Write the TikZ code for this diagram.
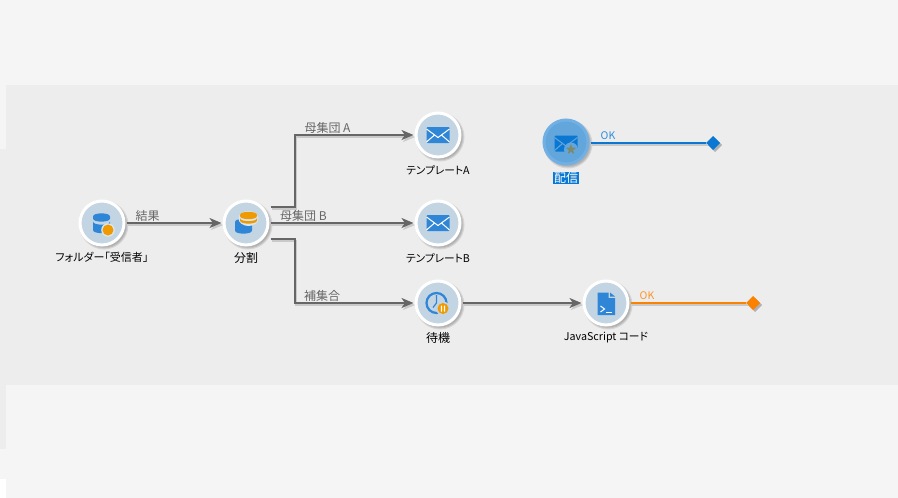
\documentclass[tikz,border=0pt]{standalone}
\usepackage{fontspec}
\setmainfont{Noto Sans CJK JP}[RawFeature=+palt]
\usetikzlibrary{arrows.meta,shapes.geometric}
\definecolor{bgl}{HTML}{F5F5F5}
\definecolor{bgd}{HTML}{EDEDED}
\definecolor{nodefill}{HTML}{C3D5E3}
\definecolor{icb}{HTML}{2F86D6}
\definecolor{ico}{HTML}{EE9A00}
\definecolor{wirec}{HTML}{666666}
\definecolor{shad}{HTML}{C9C9C9}
\definecolor{okb}{HTML}{0A78D2}
\definecolor{oko}{HTML}{FB8200}
\definecolor{selfill}{HTML}{62A6DC}
\definecolor{selring}{HTML}{70B0E4}
\definecolor{stargr}{HTML}{7D8A6C}
\tikzset{
 x=1pt,y=-1pt,
 softshadow/.style={fill=black,opacity=.09},
 act/.style={circle,minimum size=44pt,inner sep=0pt,fill=nodefill,draw=white,line width=3pt,outer sep=2.5pt},
 actsel/.style={act,fill=selfill,draw=selring},
 captxt/.style={font=\fontsize{11.5}{13}\selectfont,inner sep=0pt,text=black},
 wlabel/.style={font=\fontsize{12}{13}\selectfont,inner sep=0pt,text=wirec},
 wire/.style={draw=wirec,line width=2pt,-{Stealth[length=12pt,width=10pt,inset=3.5pt]},
   preaction={draw=shad,line width=2pt,-{Stealth[length=12pt,width=10pt,inset=3.5pt]},transform canvas={shift={(1.5pt,-2pt)}}}},
 okwire/.style={line width=2pt,preaction={draw=shad,line width=2pt,transform canvas={shift={(1.5pt,-2pt)}}}},
 enddia/.style={diamond,minimum size=14pt,inner sep=0pt,outer sep=0pt},
}
\newcommand{\mailicon}[2]{%
 \fill[#1,rounded corners=1pt] (-11.5,-8) rectangle (11.5,8);
 \draw[#2,line width=1pt] (-11.5,-6) -- (0,2.5) -- (11.5,-6);
 \draw[#2,line width=1pt] (-11.5,7) -- (-3.5,0) (11.5,7) -- (3.5,0);
}
% cylinder with a bulging top: x1 x2 ytop ybot colour
\newcommand{\cyl}[5]{%
 \fill[#5] (#1,#3) .. controls (#1,#3-4.2) and (#2,#3-4.2) .. (#2,#3) -- (#2,#4) .. controls (#2,#4+4.2) and (#1,#4+4.2) .. (#1,#4) -- cycle;
}
% cylinder slice with a hollow top
\newcommand{\cylb}[5]{%
 \fill[#5] (#1,#3) .. controls (#1,#3+4.2) and (#2,#3+4.2) .. (#2,#3) -- (#2,#4) .. controls (#2,#4+4.2) and (#1,#4+4.2) .. (#1,#4) -- cycle;
}
\begin{document}
\begin{tikzpicture}
\useasboundingbox (0,0) rectangle (898,498);
\fill[bgl] (0,0) rectangle (898,498);
\fill[bgd] (6,85) rectangle (898,385);
\fill[bgd] (0,149) rectangle (6,449);
\fill[white] (0,479) rectangle (6,498);

% soft shadows under the activities and end markers
\foreach \cx/\cy in {102/223,246/223,438/135,438/223,438/303,606/303,566/142} {
  \foreach \rr in {22.5,23.5,24.5} {
    \fill[softshadow] (\cx+2,\cy+2) circle[radius=\rr];
  }
}
\fill[black,opacity=.25] (715,138) -- (722,145) -- (715,152) -- (708,145) -- cycle;
\fill[black,opacity=.25] (755,298) -- (762,305) -- (755,312) -- (748,305) -- cycle;

% activities
\node[act] (folder) at (102,223) {};
\node[act] (split) at (246,223) {};
\node[act] (tplA) at (438,135) {};
\node[act] (tplB) at (438,223) {};
\node[act] (wait) at (438,303) {};
\node[act] (js) at (606,303) {};
\node[actsel] (deliv) at (566,142) {};
\node[enddia,fill=okb] (endB) at (713,143) {};
\node[enddia,fill=oko] (endO) at (753,303) {};

% captions
\node[captxt,font=\fontsize{11}{13}\selectfont] (capFolder) at (102,257) {フォルダー「受信者」};
\node[captxt,font=\fontsize{12}{13}\selectfont] (capSplit) at (246,258) {分割};
\node[captxt,font=\fontsize{10.7}{13}\selectfont] (capA) at (438,170) {テンプレートA};
\node[captxt,font=\fontsize{10.7}{13}\selectfont] (capB) at (438,258) {テンプレートB};
\node[captxt,font=\fontsize{12}{13}\selectfont] (capWait) at (438,338) {待機};
\node[captxt,font=\fontsize{10.7}{13}\selectfont] (capJS) at (606,338) {JavaScript コード};
\node[font=\fontsize{12}{13}\selectfont,inner xsep=1pt,inner ysep=0.5pt,fill=okb,text=white] (capDeliv) at (566,177.5) {配信};

% connectors
\draw[wire] (folder.east) -- (split.west);
\draw[wire] ([yshift=16pt]split.east) -- ++(24,0) |- (tplA.west);
\draw[wire] (split.east) -- (tplB.west);
\draw[wire] ([yshift=-16pt]split.east) -- ++(24,0) |- (wait.west);
\draw[wire] (wait.east) -- (js.west);
\draw[okwire,draw=okb] ([yshift=-1pt]deliv.east) -- (endB.west);
\draw[okwire,draw=oko] (js.east) -- (endO.west);

% connector labels
\node[wlabel] (lblRes) at (147.5,215.5) {結果};
\node[wlabel] (lblA) at (327.5,127.5) {母集団 A};
\node[wlabel] (lblB) at (303.5,215.5) {母集団 B};
\node[wlabel] (lblC) at (322,296) {補集合};
\node[font=\fontsize{10.5}{12}\selectfont,inner sep=0pt,text=okb!85!white] (lblOkB) at (608,136) {OK};
\node[font=\fontsize{10.5}{12}\selectfont,inner sep=0pt,text=oko!85!white] (lblOkO) at (647,296) {OK};

% icons
\begin{scope}[shift={(102,223)}]
 \cyl{-9}{8}{-6.5}{-4.5}{icb}
 \cylb{-9}{8}{-1.5}{7}{icb}
 \fill[nodefill!60!white] (6,7) circle[radius=6.8];
 \fill[ico] (6,7) circle[radius=5.5];
\end{scope}
\begin{scope}[shift={(246,223)}]
 \cyl{-11}{6}{-1}{7.5}{icb}
 \fill[nodefill!60!white] (2.5,-4.5) ellipse[x radius=10,y radius=7.5];
 \cyl{-6}{11}{-8}{-7}{ico}
 \cylb{-6}{11}{-5}{-2.5}{ico}
\end{scope}
\begin{scope}[shift={(438,135)}] \mailicon{icb}{white} \end{scope}
\begin{scope}[shift={(438,223)}] \mailicon{icb}{white} \end{scope}
\begin{scope}[shift={(566,143.5)}]
 \mailicon{okb}{selfill}
 \begin{scope}[shift={(5,6)}]
  \fill[selfill] (0,0) circle[radius=7];
  \fill[stargr] (0,-5.5)--(1.35,-1.86)--(5.23,-1.7)--(2.19,.71)--(3.23,4.45)--(0,2.3)--(-3.23,4.45)--(-2.19,.71)--(-5.23,-1.7)--(-1.35,-1.86)--cycle;
 \end{scope}
\end{scope}
\begin{scope}[shift={(438,303)}]
 \draw[icb,line width=2.2pt] (-1.5,0) circle[radius=10];
 \draw[icb,line width=1.2pt] (-1.5,-8) -- (-1.5,0) -- (-5,4.5);
 \fill[nodefill] (5,5.5) circle[radius=7];
 \fill[ico] (5,5.5) circle[radius=5.5];
 \fill[white] (2.8,2.5) rectangle (4.2,8.5) (5.8,2.5) rectangle (7.2,8.5);
\end{scope}
\begin{scope}[shift={(606,303)}]
 \fill[icb] (-8.5,-10.5) -- (2.5,-10.5) -- (2.5,-5) -- (9,-5) -- (9,12) -- (-8.5,12) -- cycle;
 \fill[icb] (4,-10.5) -- (9,-6.5) -- (4,-6.5) -- cycle;
 \draw[white,line width=1pt] (-5.5,3) -- (-1.5,6) -- (-5.5,9);
 \draw[white,line width=1pt] (0,9.5) -- (5.5,9.5);
\end{scope}
\end{tikzpicture}
\end{document}
